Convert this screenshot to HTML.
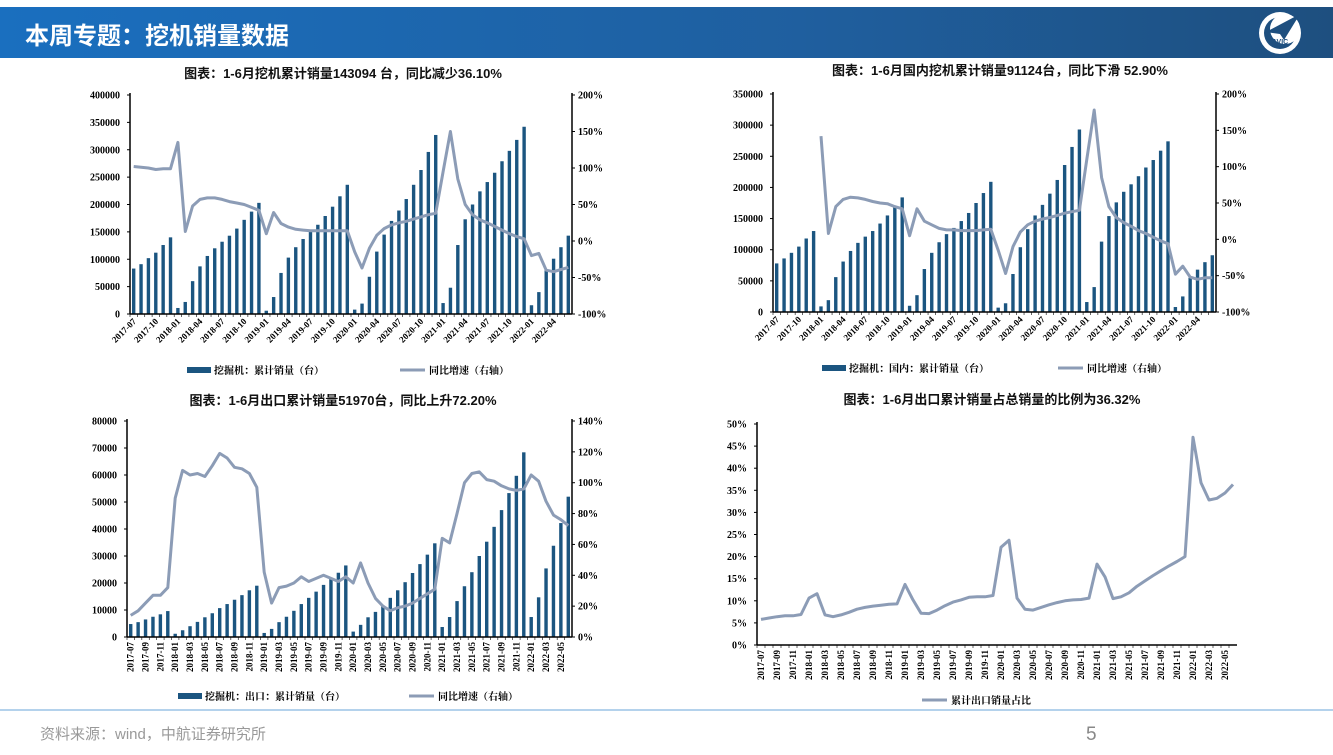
<!DOCTYPE html>
<html><head><meta charset="utf-8">
<style>
html,body{margin:0;padding:0;background:#fff;}
body{width:1333px;height:750px;overflow:hidden;position:relative;font-family:"Liberation Sans","Noto Sans CJK SC",sans-serif;}
svg text{font-family:"Liberation Serif","Noto Serif CJK SC",serif;}
.t{font-family:"Liberation Sans","Noto Sans CJK SC",sans-serif;font-weight:bold;font-size:13px;fill:#111;}
</style></head>
<body>
<svg id="s" width="1333" height="750" xmlns="http://www.w3.org/2000/svg">
<defs><linearGradient id="hg" x1="0" x2="1"><stop offset="0" stop-color="#1a6fbf"/><stop offset="0.6" stop-color="#1f5f9f"/><stop offset="1" stop-color="#1e4f7f"/></linearGradient></defs>
<rect x="0" y="7" width="1333" height="51" fill="url(#hg)"/>
<text x="25" y="44" fill="#fff" style="font-family:'Liberation Sans','Noto Sans CJK SC',sans-serif;font-weight:bold;font-size:24px">本周专题：挖机销量数据</text>
<g>
<circle cx="1280" cy="33" r="21" fill="#fff"/><circle cx="1280" cy="33" r="16" fill="#1e4f7f"/><circle cx="1285" cy="29" r="15" fill="#fff"/>
<path d="M1266 32 L1300 14 L1284 40 L1280 34 Z" fill="#1e4f7f"/>
<text x="1272" y="44" style="font-family:'Liberation Sans',sans-serif;font-size:7px;font-weight:bold" fill="#1e4f7f">AVIC</text>
</g>
<text class="t" x="343" y="78" text-anchor="middle">图表：1-6月挖机累计销量143094 台，同比减少36.10%</text>
<text class="t" x="1000" y="75" text-anchor="middle">图表：1-6月国内挖机累计销量91124台，同比下滑 52.90%</text>
<text class="t" x="343" y="405" text-anchor="middle">图表：1-6月出口累计销量51970台，同比上升72.20%</text>
<text class="t" x="992" y="404" text-anchor="middle">图表：1-6月出口累计销量占总销量的比例为36.32%</text>
<line x1="0" y1="710" x2="1333" y2="710" stroke="#9cc3e6" stroke-width="1.5"/>
<text x="40" y="739" fill="#999" style="font-family:'Liberation Sans','Noto Sans CJK SC',sans-serif;font-size:15px">资料来源：wind，中航证券研究所</text>
<text x="1086" y="740" fill="#888" style="font-family:'Liberation Sans',sans-serif;font-size:19px">5</text>
<g id="charts"></g>
</svg>
<script>
const months = [];
for (let y = 2017; y <= 2022; y++) for (let m = 1; m <= 12; m++) {
  if ((y === 2017 && m < 7) || (y === 2022 && m > 6)) continue;
  months.push(y + '-' + (m < 10 ? '0' + m : m));
}
const totalSales = [83000,91000,102000,112000,126000,140000,
 11000,22000,60000,87000,106000,120000,132000,143000,156000,172000,187000,203000,
 6000,31000,75000,103000,122000,137000,150000,163000,179000,196000,215000,236000,
 8000,19000,68000,114000,145000,170000,189000,210000,236000,263000,296000,327000,
 20000,48000,126000,173000,200000,224000,241000,258000,279000,298000,318000,342000,
 16000,40000,80000,101000,122000,143094];
const totalYoy = [102,101,100,98,99,99,
 135,13,48,57,59,59,57,54,52,50,46,42,
 10,39,24,19,16,15,14,14,14,14,14,14,
 -15,-37,-10,8,17,22,25,27,30,33,36,38,
 95,150,85,50,36,29,25,20,15,10,6,3,
 -20,-17,-40,-42,-39,-36.1];
const domSales = [78000,86000,95000,105000,118000,130000,
 9000,19000,56000,81000,98000,111000,121000,130000,142000,155000,170000,184000,
 10000,27000,69000,95000,112000,125000,135000,146000,159000,175000,191000,209000,
 7000,14000,61000,104000,133000,155000,172000,190000,212000,236000,265000,293000,
 16000,40000,113000,154000,176000,193000,205000,218000,232000,244000,259000,274000,
 8000,25000,55000,68000,80000,91124];
const domYoy = [null,null,null,null,null,null,
 142,8,45,55,58,57,55,52,50,49,45,42,
 5,42,25,20,15,13,13,12,12,12,13,14,
 -15,-47,-10,10,20,25,28,30,33,36,38,40,
 110,178,85,45,30,23,18,12,8,3,-2,-6,
 -48,-37,-52,-55,-53,-52.9];
const expSales = [4800,5500,6500,7500,8400,9600,
 1200,2500,4000,5600,7300,8800,10700,12200,13800,15500,17300,19000,
 1500,3000,5500,7500,9700,12200,14500,16800,19300,21500,23800,26500,
 2000,4500,7300,9300,11700,14500,17300,20300,23700,27000,30500,34700,
 3700,7400,13300,18800,24000,30000,35300,40800,47000,53300,59700,68400,
 7400,14700,25400,33800,42200,51970];
const expYoy = [14,17,22,27,27,32,
 90,108,105,106,104,111,119,116,110,109,106,97,
 42,22,32,33,35,39,36,38,40,38,36,39,
 35,48,35,25,20,17,19,20,22,25,28,31,
 64,61,80,100,106,107,102,101,98,96,95,96,
 105,101,88,79,76,72.2];
const expRatio = [5.8,6.1,6.4,6.6,6.6,6.9,
 10.6,11.6,6.8,6.4,6.8,7.4,8.1,8.5,8.8,9.0,9.2,9.3,
 13.7,10.2,7.2,7.1,7.9,8.9,9.7,10.2,10.8,10.9,10.9,11.2,
 22.1,23.7,10.6,8.1,7.9,8.5,9.1,9.6,10.0,10.2,10.3,10.6,
 18.3,15.4,10.5,10.9,11.8,13.3,14.5,15.7,16.8,17.9,18.9,20.0,
 47.0,36.7,32.8,33.2,34.4,36.32];
const ticks1 = [0,50000,100000,150000,200000,250000,300000,350000,400000];
const ticks1R = [-100,-50,0,50,100,150,200];
const ticks2 = [0,50000,100000,150000,200000,250000,300000,350000];
const ticks3 = [0,10000,20000,30000,40000,50000,60000,70000,80000];
const ticks3R = [0,20,40,60,80,100,120,140];
const ticks4 = [0,5,10,15,20,25,30,35,40,45,50];

const NS = 'http://www.w3.org/2000/svg';
const root = document.getElementById('charts');
function mk(tag, attrs, parent, txt) {
  const e = document.createElementNS(NS, tag);
  for (const k in attrs) e.setAttribute(k, attrs[k]);
  if (txt !== undefined) e.textContent = txt;
  (parent || root).appendChild(e);
  return e;
}
const BAR = '#1b5580', LINE = '#8c9cb6';

function chart(c) {
  const g = mk('g', {});
  
  
  const n = months.length, band = (c.x1 - c.x0) / n;
  const xc = i => c.x0 + band * (i + 0.5);
  const yL = v => c.y1 - (v - c.lmin) / (c.lmax - c.lmin) * (c.y1 - c.y0);
  const yR = v => c.y1 - (v - c.rmin) / (c.rmax - c.rmin) * (c.y1 - c.y0);
  // bars
  if (c.bars) c.bars.forEach((v, i) => {
    const r = mk('rect', {x: xc(i) - band * 0.23, y: yL(v), width: band * 0.46, height: c.y1 - yL(v), fill: BAR}, g);
    
    
  });
  // line
  const src = c.line, yf = c.bars ? yR : yL;
  let d = '';
  src.forEach((v, i) => { if (v === null) return; d += (d ? 'L' : 'M') + xc(i).toFixed(1) + ' ' + yf(v).toFixed(1); });
  const p = mk('path', {d: d, fill: 'none', stroke: LINE, 'stroke-width': 3, 'stroke-linejoin': 'round'}, g);
  
  
  // axes
  const ax = mk('g', {}, g);
  
  
  mk('line', {x1: c.x0, y1: c.y0 - 2, x2: c.x0, y2: c.y1, stroke: '#000', 'stroke-width': 1.5}, ax);
  mk('line', {x1: c.x0, y1: c.y1, x2: c.x1, y2: c.y1, stroke: '#000', 'stroke-width': 1.5}, ax);
  if (c.bars) mk('line', {x1: c.x1, y1: c.y0 - 2, x2: c.x1, y2: c.y1, stroke: '#000', 'stroke-width': 1.5}, ax);
  c.lt.forEach(v => {
    mk('line', {x1: c.x0 - 3, y1: yL(v), x2: c.x0, y2: yL(v), stroke: '#000'}, ax);
    const t = mk('text', {x: c.x0 - 10, y: yL(v) + 3.5, 'text-anchor': 'end', 'font-size': 10, 'font-weight': 'bold'}, ax, c.lfmt ? c.lfmt(v) : v);
    
    
  });
  if (c.rt) c.rt.forEach(v => {
    mk('line', {x1: c.x1, y1: yR(v), x2: c.x1 + 3, y2: yR(v), stroke: '#000'}, ax);
    const t = mk('text', {x: c.x1 + 6, y: yR(v) + 3.5, 'font-size': 10, 'font-weight': 'bold'}, ax, v + '%');
    
    
  });
  for (let i = 0; i < n; i++) mk('line', {x1: c.x0 + band * i, y1: c.y1, x2: c.x0 + band * i, y2: c.y1 + 3, stroke: '#000', 'stroke-width': 0.6}, ax);
  months.forEach((m, i) => {
    if (i % c.step) return;
    let t;
    if (c.rot === 45) t = mk('text', {transform: 'translate(' + (xc(i) + 3) + ',' + (c.y1 + 8) + ') rotate(-45)', 'text-anchor': 'end', 'font-size': 9, 'font-weight': 'bold'}, ax, m);
    else t = mk('text', {transform: 'translate(' + (xc(i) + 3) + ',' + (c.y1 + 5) + ') rotate(-90)', 'text-anchor': 'end', 'font-size': 9, 'font-weight': 'bold'}, ax, m);
    
    
  });
  // legend
  const lg = mk('g', {}, g);
  
  
  if (c.bars) {
    mk('rect', {x: c.lg1, y: c.ly - 4, width: 24, height: 6, fill: BAR}, lg);
    mk('text', {x: c.lg1 + 27, y: c.ly + 3, 'font-size': 10, 'font-weight': 'bold'}, lg, c.barName);
  }
  mk('line', {x1: c.lg2, y1: c.ly - 1, x2: c.lg2 + 25, y2: c.ly - 1, stroke: LINE, 'stroke-width': 3}, lg);
  mk('text', {x: c.lg2 + 29, y: c.ly + 3, 'font-size': 10, 'font-weight': 'bold'}, lg, c.lineName);
}

chart({name: 'chart-total-sales', x0: 130, x1: 572, y0: 95, y1: 314, lmin: 0, lmax: 400000, rmin: -100, rmax: 200,
  bars: totalSales, line: totalYoy, lt: ticks1, rt: ticks1R, step: 3, rot: 45,
  ly: 371, lg1: 187, lg2: 400, barName: '挖掘机：累计销量（台）', lineName: '同比增速（右轴）'});
chart({name: 'chart-domestic-sales', x0: 773, x1: 1216, y0: 94, y1: 312, lmin: 0, lmax: 350000, rmin: -100, rmax: 200,
  bars: domSales, line: domYoy, lt: ticks2, rt: ticks1R, step: 3, rot: 45,
  ly: 369, lg1: 822, lg2: 1058, barName: '挖掘机：国内：累计销量（台）', lineName: '同比增速（右轴）'});
chart({name: 'chart-export-sales', x0: 127, x1: 572, y0: 421, y1: 637, lmin: 0, lmax: 80000, rmin: 0, rmax: 140,
  bars: expSales, line: expYoy, lt: ticks3, rt: ticks3R, step: 2, rot: 90,
  ly: 697, lg1: 178, lg2: 409, barName: '挖掘机：出口：累计销量（台）', lineName: '同比增速（右轴）'});
chart({name: 'chart-export-ratio', x0: 757, x1: 1237, y0: 424, y1: 645, lmin: 0, lmax: 50,
  bars: null, line: expRatio, lt: ticks4, lfmt: v => v + '%', step: 2, rot: 90,
  ly: 701, lg2: 922, lineName: '累计出口销量占比'});
</script>
</body></html>
